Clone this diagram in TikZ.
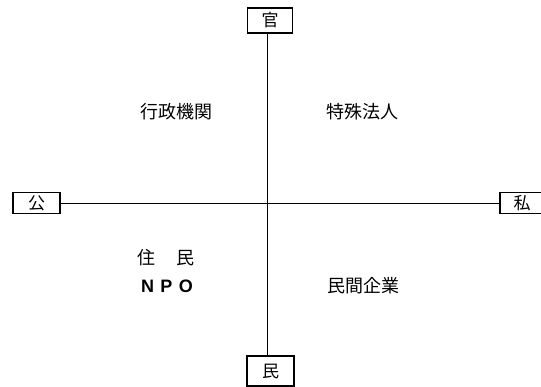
\documentclass[tikz,border=0pt]{standalone}
\usepackage{fontspec}
\newfontfamily\cjk{Noto Sans CJK JP}
\begin{document}
\begin{tikzpicture}[x=1pt,y=-1pt,
  lbl/.style={font=\cjk\fontsize{18}{20}\selectfont, inner sep=0pt},
  axbox/.style={draw, line width=1.3pt, font=\cjk\fontsize{17}{19}\selectfont, inner sep=0pt},
  axis/.style={line width=1pt}]
\useasboundingbox (0,0) rectangle (541,386);
\node[axbox, minimum width=45, minimum height=25] (kan) at (270,20.5) {官};
\node[axbox, minimum width=47, minimum height=21] (ko) at (36.5,203) {公};
\node[axbox, minimum width=44, minimum height=21] (shi) at (522,203) {私};
\node[axbox, minimum width=47, minimum height=30] (min) at (270.5,371) {民};
\coordinate (c) at (267,203);
\draw[axis] (kan.south -| c) -- (min.north -| c);
\draw[axis] (ko.east) -- (shi.west);
\node[lbl] (a) at (176,111.5) {行政機関};
\node[lbl] (b) at (362,111.5) {特殊法人};
\node[lbl] (d) at (166,258) {住\hspace{1.2em}民};
\node[font=\fontspec{Liberation Sans}\bfseries\fontsize{18}{20}\selectfont, inner sep=0pt] (e) at (167,286) {N\hspace{0.35em}P\hspace{0.35em}O};
\node[lbl] (f) at (363,286) {民間企業};
\end{tikzpicture}
\end{document}
